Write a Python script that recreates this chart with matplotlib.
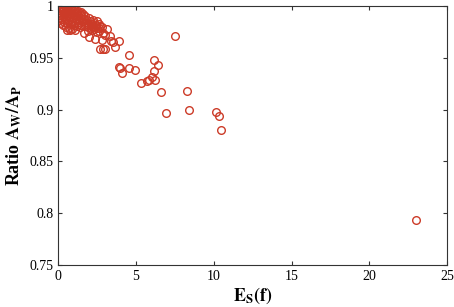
import matplotlib
matplotlib.use('Agg')
import matplotlib.pyplot as plt
from matplotlib.ticker import FormatStrFormatter

# dense cluster near the top-left corner
cluster_x = [0.1, 0.2, 0.3, 0.4, 0.5, 0.6, 0.7, 0.8, 0.9, 1.0, 1.1, 1.2, 1.3, 1.4, 1.5, 1.6,
             0.1, 0.2, 0.3, 0.35, 0.45, 0.55, 0.65, 0.75, 0.85, 0.95, 1.05, 1.15, 1.25, 1.35,
             1.45, 1.55, 1.65, 1.75, 1.85, 1.95, 2.05, 2.15, 2.3, 2.45, 2.6, 2.7,
             0.05, 0.15, 0.25, 0.4, 0.5, 0.6, 0.7, 0.8, 0.9, 1.0, 1.1, 1.2, 1.3, 1.4, 1.5,
             1.7, 1.9, 2.1, 2.3, 2.5,
             0.1, 0.3, 0.5, 0.7, 0.9, 1.1, 0.6,
             0.25, 0.55, 0.85, 1.15, 1.45, 1.75, 2.0, 2.25, 2.5, 0.15, 0.45, 0.75, 1.05,
             1.35, 1.65, 1.95, 2.2, 2.4, 2.65, 2.8]
cluster_y = [0.998, 0.999, 0.998, 0.997, 0.998, 0.997, 0.996, 0.997, 0.996, 0.995, 0.996,
             0.994, 0.995, 0.993, 0.994, 0.992,
             0.994, 0.992, 0.995, 0.990, 0.993, 0.991, 0.993, 0.990, 0.992, 0.989, 0.991,
             0.988, 0.990, 0.987, 0.989, 0.986, 0.988, 0.985, 0.987, 0.984, 0.986, 0.983,
             0.984, 0.982, 0.983, 0.981,
             0.989, 0.987, 0.988, 0.985, 0.987, 0.984, 0.986, 0.983, 0.985, 0.982, 0.984,
             0.981, 0.983, 0.980, 0.982, 0.981, 0.980, 0.979, 0.978, 0.979,
             0.984, 0.982, 0.980, 0.979, 0.978, 0.977, 0.977,
             0.996, 0.995, 0.994, 0.993, 0.991, 0.990, 0.989, 0.987, 0.986, 0.991, 0.989,
             0.988, 0.987, 0.985, 0.984, 0.982, 0.981, 0.980, 0.979, 0.980]

# scattered points
spread_x = [0.82, 0.77, 1.69, 2.01, 2.38, 2.81, 2.87, 3.34, 3.17, 3.41, 3.52, 3.92, 3.67,
            2.70, 2.91, 3.02, 2.49, 2.2, 2.6, 3.0, 1.9,
            4.55, 3.94, 4.12, 4.0, 4.57, 4.97, 6.17, 6.45, 6.13, 6.04, 6.24, 5.81, 5.70,
            5.34, 6.58, 8.25, 6.95, 8.38, 10.14, 10.35, 10.48, 23.0, 7.52]
spread_y = [1.000, 0.977, 0.974, 0.970, 0.968, 0.967, 0.974, 0.971, 0.978, 0.966, 0.965,
            0.966, 0.961, 0.959, 0.959, 0.959, 0.975, 0.977, 0.976, 0.972, 0.976,
            0.953, 0.941, 0.935, 0.940, 0.940, 0.938, 0.948, 0.943, 0.937, 0.932, 0.929,
            0.929, 0.928, 0.926, 0.917, 0.918, 0.897, 0.900, 0.898, 0.894, 0.880, 0.793,
            0.971]

x_ticks = [0, 5, 10, 15, 20, 25]
y_ticks = [0.75, 0.8, 0.85, 0.9, 0.95, 1]

plt.rcParams['font.family'] = ['Liberation Serif', 'DejaVu Serif']
plt.rcParams['mathtext.fontset'] = 'stix'

fig = plt.figure(figsize=(4.54, 3.07), dpi=100)
ax = fig.add_axes([0.128, 0.137, 0.857, 0.843])

marker_color = '#cc3b28'
ax.plot(cluster_x + spread_x, cluster_y + spread_y, 'o', ls='none',
        mfc='none', mec=marker_color, ms=5.5, mew=1.0)

ax.set_xlim(0, 25)
ax.set_ylim(0.75, 1)
ax.set_xticks(x_ticks)
ax.set_yticks(y_ticks)
ax.yaxis.set_major_formatter(FormatStrFormatter('%g'))
ax.tick_params(direction='in', top=True, right=True, labelsize=10,
               length=3, width=0.8, colors='#333333', labelcolor='black')
for s in ax.spines.values():
    s.set_color('#333333')
    s.set_linewidth(0.8)

ax.set_xlabel(r'$\mathbf{E_S(f)}$', fontsize=13, labelpad=2)
ax.set_ylabel(r'Ratio $\mathbf{A_W/A_P}$', fontsize=13, fontweight='bold', labelpad=4)

fig.savefig('out.png', dpi=100)
